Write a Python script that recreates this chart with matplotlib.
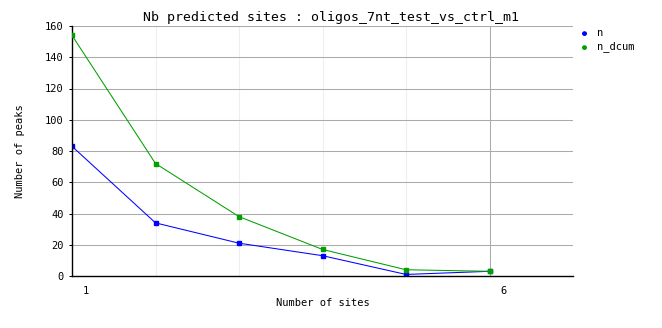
import matplotlib
matplotlib.use("Agg")
import matplotlib.pyplot as plt
import matplotlib.transforms as mtransforms

plt.rcParams.update({"font.family": "DejaVu Sans Mono", "font.size": 7.5})

sites = [1, 2, 3, 4, 5, 6]
n_vals = [83, 34, 21, 13, 1, 3]
n_dcum_vals = [154, 72, 38, 17, 4, 3]
series = [("n", n_vals, "#0000ff"), ("n_dcum", n_dcum_vals, "#00a000")]

fig = plt.figure(figsize=(6.62, 3.28), dpi=100)
ax = fig.add_axes([72 / 662, 1 - 276 / 328, 501 / 662, 250 / 328])

# grid: faint verticals at each site, stronger at labelled ticks
for x in [2, 3, 4, 5, 7]:
    ax.axvline(x, color="#eeeeee", lw=0.75, zorder=0)
ax.axvline(6, color="#aaaaaa", lw=0.75, zorder=0)
for y in range(20, 161, 20):
    ax.axhline(y, color="#aaaaaa", lw=0.75, zorder=0)

for name, vals, col in series:
    ax.plot(sites, vals, color=col, lw=0.75, marker="s", ms=2.8,
            zorder=3 if name == "n_dcum" else 2)

ax.set_xlim(1, 7)
ax.set_ylim(0, 160)
ax.set_yticks(range(0, 161, 20))
ax.set_xticks([1, 6])
ax.tick_params(axis="x", length=0, pad=7)
ax.tick_params(axis="y", length=2, width=0.75, pad=4)
offset = mtransforms.ScaledTranslation(14 / 100, 0, fig.dpi_scale_trans)
for lab in ax.get_xticklabels():
    lab.set_transform(lab.get_transform() + offset)

for s in ["top", "right"]:
    ax.spines[s].set_visible(False)
for s in ["left", "bottom"]:
    ax.spines[s].set_linewidth(1.0)

fig.text(331 / 662, 1 - 17 / 328, "Nb predicted sites : oligos_7nt_test_vs_ctrl_m1",
         fontsize=9.5, ha="center", va="center")
ax.set_xlabel("Number of sites")
ax.xaxis.set_label_coords(0.5, -(303 - 276) / 250)
ax.xaxis.label.set_va("center")
ax.set_ylabel("Number of peaks")
ax.yaxis.set_label_coords(-(72 - 20) / 501, 0.5)
ax.yaxis.label.set_va("center")

# legend outside on the right
for i, (name, vals, col) in enumerate(series):
    y = 1 - (33 + 14 * i) / 328
    fig.text(584 / 662, y, "\u25cf", color=col, fontsize=6, ha="center", va="center")
    fig.text(597 / 662, y, name, fontsize=7.5, ha="left", va="center")

fig.savefig("out.png", dpi=100)
